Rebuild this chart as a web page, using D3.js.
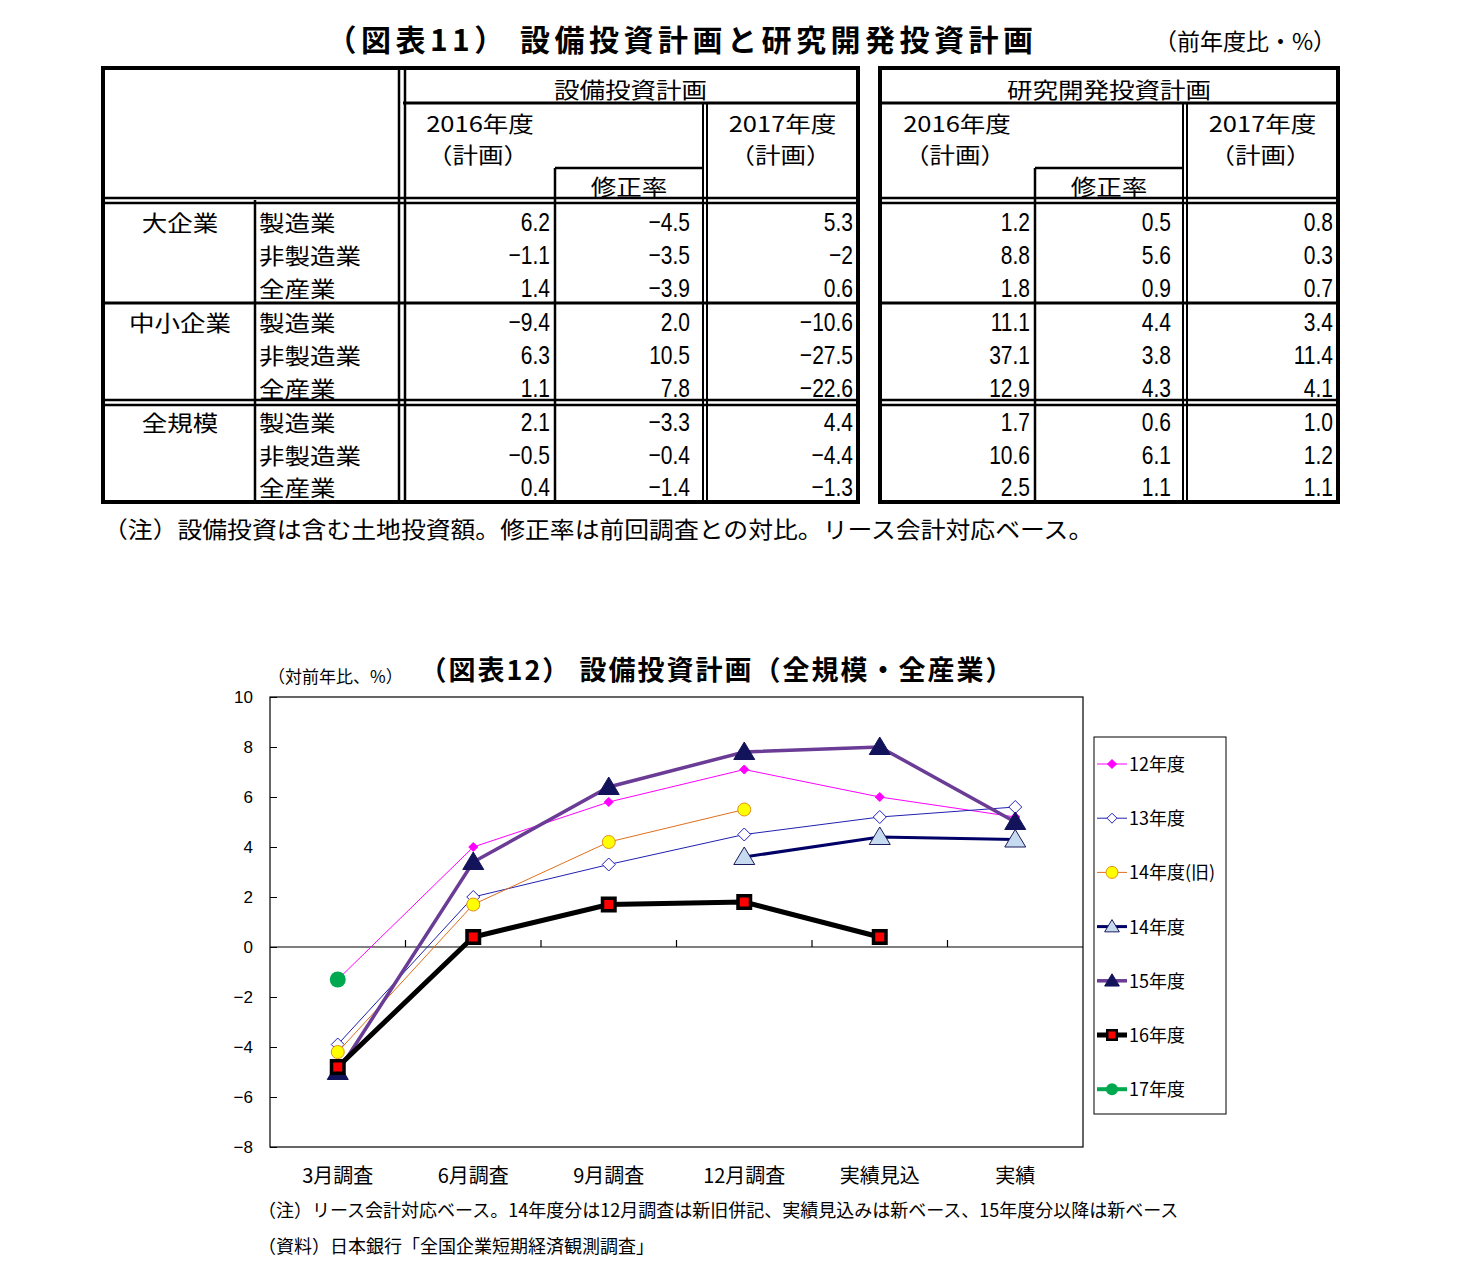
<!DOCTYPE html>
<html><head><meta charset="utf-8">
<script src="https://cdn.jsdelivr.net/npm/d3@7"></script>
<style>
html,body{margin:0;padding:0;background:#fff;}
svg text{font-family:"Noto Sans CJK JP","Noto Sans",sans-serif;fill:#000;}
svg text.num{font-family:"Liberation Sans",Arial,sans-serif;}
</style></head>
<body><svg id="c" width="1473" height="1286"></svg>
<script>
// ---------- Table data (図表11) ----------
const groups = ["大企業", "中小企業", "全規模"];
const industries = ["製造業", "非製造業", "全産業"];
const capex2016 = ["6.2", "-1.1", "1.4", "-9.4", "6.3", "1.1", "2.1", "-0.5", "0.4"];
const capexRev  = ["-4.5", "-3.5", "-3.9", "2.0", "10.5", "7.8", "-3.3", "-0.4", "-1.4"];
const capex2017 = ["5.3", "-2", "0.6", "-10.6", "-27.5", "-22.6", "4.4", "-4.4", "-1.3"];
const rd2016 = ["1.2", "8.8", "1.8", "11.1", "37.1", "12.9", "1.7", "10.6", "2.5"];
const rdRev  = ["0.5", "5.6", "0.9", "4.4", "3.8", "4.3", "0.6", "6.1", "1.1"];
const rd2017 = ["0.8", "0.3", "0.7", "3.4", "11.4", "4.1", "1.0", "1.2", "1.1"];

// ---------- Chart data (図表12) ----------
const categories = ["3月調査", "6月調査", "9月調査", "12月調査", "実績見込", "実績"];
const fy12    = [-1.3, 4.0, 5.8, 7.1, 6.0, 5.2];
const fy13    = [-3.9, 2.0, 3.3, 4.5, 5.2, 5.6];
const fy14old = [-4.2, 1.7, 4.2, 5.5, null, null];
const fy14    = [null, null, null, 3.6, 4.4, 4.3];
const fy15    = [-5.0, 3.4, 6.4, 7.8, 8.0, 5.0];
const fy16    = [-4.8, 0.4, 1.7, 1.8, 0.4, null];
const fy17    = [-1.3, null, null, null, null, null];
const seriesNames = ["12年度", "13年度", "14年度(旧)", "14年度", "15年度", "16年度", "17年度"];
const yTicks = [-8, -6, -4, -2, 0, 2, 4, 6, 8, 10];

const svg = d3.select("#c");
svg.append("rect").attr("width",1473).attr("height",1286).attr("fill","#fff");

// ================= TABLE =================
const fmt = s => s.replace("-", "\u2212");
svg.append("text").attr("x", 682).attr("y", 51).attr("text-anchor","middle")
  .attr("font-size", 30).attr("font-weight","bold").attr("letter-spacing", 4.5)
  .text("（図表11） 設備投資計画と研究開発投資計画");
svg.append("text").attr("x", 1245).attr("y", 50).attr("text-anchor","middle")
  .attr("font-size", 23).text("（前年度比・%）");

const rowBase = [231, 264, 297, 331, 364, 397, 431, 464, 496];

function line(g, x1, y1, x2, y2, w) {
  return g.append("line").attr("x1",x1).attr("y1",y1).attr("x2",x2).attr("y2",y2)
    .attr("stroke","#000").attr("stroke-width", w);
}
function numText(g, x, y, s) {
  g.append("text").attr("class","num").attr("transform", `translate(${x},${y}) scale(0.84,1.05)`)
    .attr("text-anchor","end").attr("font-size", 25).text(fmt(s));
}
function jText(g, x, y, s, anchor) {
  g.append("text").attr("transform", `translate(${x},${y}) scale(1.16,1)`)
    .attr("text-anchor", anchor).attr("font-size", 22).text(s);
}

function drawBlock(opt) {
  const g = svg.append("g");
  const {L, R, c1, c2, title, cols} = opt;
  const top = 68, bot = 502;
  jText(g, (opt.dataL + R) / 2, 98, title, "middle");
  line(g, opt.dataL, 103, R, 103, 3);
  const c16 = opt.dataL + 77;
  jText(g, c16, 132, "2016年度", "middle");
  jText(g, c16 - 2, 163, "（計画）", "middle");
  const c17 = (c2 + 4 + R) / 2;
  jText(g, c17, 132, "2017年度", "middle");
  jText(g, c17 - 2, 163, "（計画）", "middle");
  jText(g, (c1 + c2) / 2, 195, "修正率", "middle");
  line(g, c1, 168, c2, 168, 2.5);
  line(g, c1, 168, c1, bot, 2.5);
  line(g, c2, 103, c2, bot, 2); line(g, c2 + 4, 103, c2 + 4, bot, 2);
  line(g, L, 198, R, 198, 2.5); line(g, L, 203, R, 203, 2.5);
  line(g, L, 303, R, 303, 3);
  line(g, L, 400, R, 400, 2.5); line(g, L, 405, R, 405, 2.5);
  cols.forEach((arr, ci) => {
    arr.forEach((s, i) => numText(g, opt.rights[ci], rowBase[i], s));
  });
  g.append("rect").attr("x", L).attr("y", top).attr("width", R - L).attr("height", bot - top)
    .attr("fill","none").attr("stroke","#000").attr("stroke-width", 4);
  return g;
}

const gl = drawBlock({L:103, R:858, dataL:403, c1:555, c2:703, title:"設備投資計画",
  cols:[capex2016, capexRev, capex2017], rights:[550, 690, 853]});
line(gl, 399, 68, 399, 502, 2.5); line(gl, 405, 68, 405, 502, 2.5);
line(gl, 255, 200, 255, 502, 2.5);
groups.forEach((gname, gi) => {
  jText(gl, 180, rowBase[gi*3], gname, "middle");
  industries.forEach((ind, ii) => jText(gl, 259, rowBase[gi*3+ii], ind, "start"));
});
drawBlock({L:880, R:1338, dataL:880, c1:1035, c2:1183, title:"研究開発投資計画",
  cols:[rd2016, rdRev, rd2017], rights:[1030, 1171, 1333]});

svg.append("text").attr("transform", "translate(103,538) scale(1.08,1)").attr("font-size", 23)
  .text("（注）設備投資は含む土地投資額。修正率は前回調査との対比。リース会計対応ベース。");

// ================= CHART =================
const pL = 270, pR = 1083, pT = 697, pB = 1147;
const x = d3.scalePoint().domain(categories).range([pL, pR]).padding(0.5);
const y = d3.scaleLinear().domain([-8, 10]).range([pB, pT]);

svg.append("text").attr("x", 717).attr("y", 680).attr("text-anchor","middle")
  .attr("font-size", 27).attr("font-weight","bold").attr("letter-spacing", 2)
  .text("（図表12） 設備投資計画（全規模・全産業）");
svg.append("text").attr("x", 268).attr("y", 683).attr("font-size", 17).text("（対前年比、%）");

const ch = svg.append("g");
ch.append("rect").attr("x", pL).attr("y", pT).attr("width", pR - pL).attr("height", pB - pT)
  .attr("fill","#fff").attr("stroke","#000").attr("stroke-width", 1.2);

const yAxis = ch.append("g").attr("transform", `translate(${pL},0)`)
  .call(d3.axisRight(y).tickValues(yTicks).tickSize(7).tickFormat(""));
yAxis.select(".domain").remove();
yAxis.selectAll("line").attr("stroke","#000");
ch.selectAll(".ylab").data(yTicks).join("text").attr("class","ylab num")
  .attr("x", 253).attr("y", d => y(d) + 6).attr("text-anchor","end")
  .attr("font-size", 17).text(d => d3.format("d")(d));

const step = x.step();
const bounds = categories.slice(1).map(c => x(c) - step / 2);
line(ch, pL, y(0), pR, y(0), 1.2);
ch.selectAll(".xt").data(bounds).join("line").attr("class","xt")
  .attr("x1", d => d).attr("x2", d => d).attr("y1", y(0)).attr("y2", y(0) - 7)
  .attr("stroke","#000").attr("stroke-width", 1.2);
ch.selectAll(".xlab").data(categories).join("text").attr("class","xlab")
  .attr("x", d => x(d)).attr("y", 1183).attr("text-anchor","middle").attr("font-size", 20).text(d => d);

const diamond = (s) => `M0,${-s}L${s},0L0,${s}L${-s},0Z`;
const tri = (s) => `M0,${-s}L${s*1.05},${s*0.75}L${-s*1.05},${s*0.75}Z`;
const styles = [
  {data: fy12, color:"#FF00FF", width:1, marker:{type:"path", d:diamond(4.5), fill:"#FF00FF", stroke:"#FF00FF", sw:1}},
  {data: fy13, color:"#2020B0", width:1, marker:{type:"path", d:diamond(6.5), fill:"#fff", stroke:"#2020C0", sw:1}},
  {data: fy14old, color:"#E0701C", width:1, marker:{type:"circle", r:6.5, fill:"#FFFF00", stroke:"#E0901C", sw:1}},
  {data: fy14, color:"#000066", width:3, marker:{type:"path", d:tri(10), fill:"#C6DAF0", stroke:"#1A1A5A", sw:1}},
  {data: fy15, color:"#6A3C96", width:3.5, marker:{type:"path", d:tri(10), fill:"#13135C", stroke:"#13135C", sw:1}},
  {data: fy16, color:"#000", width:5, marker:{type:"square", s:16, inner:9, fill:"#FF0000"}},
  {data: fy17, color:"#00A850", width:4, marker:{type:"circle", r:8, fill:"#00A850", stroke:"#00A850", sw:0}},
];

function drawMarker(g, m, cx, cy) {
  if (m.type === "circle") {
    g.append("circle").attr("cx", cx).attr("cy", cy).attr("r", m.r).attr("fill", m.fill)
      .attr("stroke", m.stroke).attr("stroke-width", m.sw);
  } else if (m.type === "square") {
    g.append("rect").attr("x", cx - m.s/2).attr("y", cy - m.s/2).attr("width", m.s).attr("height", m.s).attr("fill","#000");
    g.append("rect").attr("x", cx - m.inner/2).attr("y", cy - m.inner/2).attr("width", m.inner).attr("height", m.inner).attr("fill", m.fill);
  } else {
    g.append("path").attr("transform", `translate(${cx},${cy})`).attr("d", m.d).attr("fill", m.fill)
      .attr("stroke", m.stroke).attr("stroke-width", m.sw);
  }
}

const lineGen = d3.line().defined(d => d.v !== null).x(d => x(d.c)).y(d => y(d.v));
styles.forEach(s => {
  const pts = categories.map((c, i) => ({c, v: s.data[i]}));
  const g = ch.append("g");
  g.append("path").attr("d", lineGen(pts)).attr("fill","none").attr("stroke", s.color)
    .attr("stroke-width", s.width).attr("stroke-linejoin","miter");
  pts.filter(p => p.v !== null).forEach(p => drawMarker(g, s.marker, x(p.c), y(p.v)));
});

// legend
const lg = svg.append("g");
lg.append("rect").attr("x", 1094).attr("y", 737).attr("width", 132).attr("height", 377)
  .attr("fill","#fff").attr("stroke","#000").attr("stroke-width", 1);
seriesNames.forEach((name, i) => {
  const s = styles[i], ly = 764 + i * 54.2;
  line(lg, 1097, ly, 1127, ly, Math.max(1, s.width)).attr("stroke", s.color);
  const m = Object.assign({}, s.marker);
  if (m.type === "circle") m.r = Math.min(m.r, 6);
  if (m.type === "square") { m.s = 12; m.inner = 7; }
  if (i === 1) m.d = diamond(5);
  if (i === 3 || i === 4) m.d = tri(7);
  drawMarker(lg, m, 1112, ly);
  lg.append("text").attr("x", 1129).attr("y", ly + 7).attr("font-size", 18).text(name);
});

svg.append("text").attr("x", 258).attr("y", 1217).attr("font-size", 18)
  .text("（注）リース会計対応ベース。14年度分は12月調査は新旧併記、実績見込みは新ベース、15年度分以降は新ベース");
svg.append("text").attr("x", 258).attr("y", 1253).attr("font-size", 18)
  .text("（資料）日本銀行「全国企業短期経済観測調査」");
</script></body></html>
